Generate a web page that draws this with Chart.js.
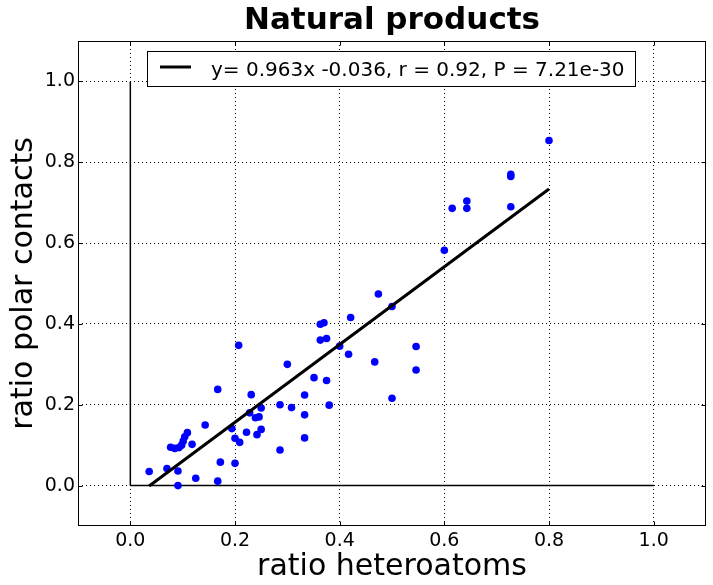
<!DOCTYPE html>
<html><head><meta charset="utf-8">
<script src="https://cdn.jsdelivr.net/npm/chart.js@4"></script>
<style>html,body{margin:0;padding:0;background:#fff}canvas{display:block}</style>
</head><body>
<canvas id="c" width="713" height="585"></canvas>
<script>
const titleText = 'Natural products';
const xLabel = 'ratio heteroatoms';
const yLabel = 'ratio polar contacts';
const legendText = 'y= 0.963x -0.036, r = 0.92, P = 7.21e-30';
const tickValues = [0.0, 0.2, 0.4, 0.6, 0.8, 1.0];
const axisMin = -0.1, axisMax = 1.1;

const xValues = [0.036, 0.070, 0.091, 0.091, 0.125, 0.167, 0.172, 0.200, 0.077, 0.085,
                 0.093, 0.098, 0.101, 0.104, 0.109, 0.118, 0.143, 0.167, 0.194, 0.200,
                 0.209, 0.207, 0.222, 0.228, 0.231, 0.239, 0.246, 0.250, 0.250, 0.242,
                 0.286, 0.286, 0.300, 0.308, 0.333, 0.333, 0.333, 0.351, 0.363, 0.370,
                 0.363, 0.375, 0.375, 0.380, 0.400, 0.417, 0.421, 0.467, 0.474, 0.500,
                 0.500, 0.546, 0.546, 0.600, 0.615, 0.643, 0.643, 0.727, 0.727, 0.727,
                 0.800];
const yValues = [0.035, 0.042, 0.036, 0.000, 0.018, 0.011, 0.058, 0.055, 0.095, 0.092,
                 0.094, 0.100, 0.110, 0.121, 0.131, 0.102, 0.150, 0.238, 0.141, 0.117,
                 0.107, 0.347, 0.132, 0.180, 0.225, 0.168, 0.170, 0.192, 0.139, 0.126,
                 0.200, 0.088, 0.300, 0.193, 0.224, 0.175, 0.118, 0.267, 0.399, 0.403,
                 0.360, 0.364, 0.260, 0.199, 0.345, 0.325, 0.416, 0.306, 0.474, 0.443,
                 0.216, 0.344, 0.286, 0.582, 0.686, 0.704, 0.686, 0.765, 0.770, 0.690,
                 0.854];
const fitX = [0.036, 0.800];
const fitY = [-0.001, 0.734];
const refVertX = [0, 0], refVertY = [0, 1];
const refHorzX = [0, 1], refHorzY = [0, 0];

const toPts = (xs, ys) => xs.map((x, i) => ({x: x, y: ys[i]}));
const FONT = "'DejaVu Sans', sans-serif";

const framePlugin = {
  id: 'frame',
  afterDraw(chart) {
    const {ctx, chartArea: a, scales} = chart;
    ctx.save();
    ctx.strokeStyle = '#000';
    ctx.lineWidth = 1;
    ctx.setLineDash([]);
    const L = Math.round(a.left) + 0.5, R = Math.round(a.right) - 0.5;
    const T = Math.round(a.top) + 0.5, B = Math.round(a.bottom) - 0.5;
    ctx.strokeRect(L, T, R - L, B - T);
    const tl = 4;
    ctx.beginPath();
    tickValues.forEach(v => {
      const px = Math.round(scales.x.getPixelForValue(v)) + 0.5;
      ctx.moveTo(px, B); ctx.lineTo(px, B - tl);
      ctx.moveTo(px, T); ctx.lineTo(px, T + tl);
      const py = Math.round(scales.y.getPixelForValue(v)) + 0.5;
      ctx.moveTo(L, py); ctx.lineTo(L + tl, py);
      ctx.moveTo(R, py); ctx.lineTo(R - tl, py);
    });
    ctx.stroke();
    // legend box
    const bx = 147.5, by = 51.5, bw = 488, bh = 35;
    ctx.fillStyle = '#fff';
    ctx.fillRect(bx, by, bw, bh);
    ctx.strokeRect(bx, by, bw, bh);
    ctx.beginPath();
    ctx.lineWidth = 3;
    ctx.moveTo(160, 67); ctx.lineTo(191, 67);
    ctx.stroke();
    ctx.fillStyle = '#000';
    ctx.font = "20px " + FONT;
    ctx.textBaseline = 'alphabetic';
    ctx.textAlign = 'left';
    ctx.fillText(legendText, 211, 76);
    ctx.restore();
  }
};

const tickOpts = {
  color: '#000',
  font: {family: FONT, size: 19},
  callback: v => Number(v).toFixed(1)
};

new Chart(document.getElementById('c'), {
  type: 'scatter',
  data: {
    datasets: [
      {data: toPts(fitX, fitY), showLine: true, borderColor: '#000', borderWidth: 3,
       pointRadius: 0, order: 0},
      {data: toPts(xValues, yValues), backgroundColor: '#0000ff', borderWidth: 0,
       pointRadius: 3.8, order: 1},
      {data: toPts(refVertX, refVertY), showLine: true, borderColor: '#000', borderWidth: 1.5,
       pointRadius: 0, order: 2},
      {data: toPts(refHorzX, refHorzY), showLine: true, borderColor: '#000', borderWidth: 1.5,
       pointRadius: 0, order: 3}
    ]
  },
  options: {
    responsive: false,
    animation: false,
    devicePixelRatio: 1,
    layout: {padding: {left: 0, right: 7, top: 0, bottom: 0}},
    plugins: {
      legend: {display: false},
      tooltip: {enabled: false},
      title: {display: true, text: titleText, color: '#000', fullSize: false,
              font: {family: FONT, size: 31, weight: 'bold', lineHeight: 1.2},
              padding: {top: 2, bottom: 1.8}}
    },
    scales: {
      x: {
        type: 'linear', min: axisMin, max: axisMax,
        afterBuildTicks: s => { s.ticks = tickValues.map(v => ({value: v})); },
        afterFit: s => { s.height = 59; },
        grid: {color: '#000', lineWidth: 1, drawTicks: false},
        border: {display: false, dash: [1, 3]},
        ticks: Object.assign({padding: 4, maxRotation: 0}, tickOpts),
        title: {display: true, text: xLabel, color: '#000',
                font: {family: FONT, size: 30, lineHeight: 1.2}, padding: {top: 0, bottom: 0}}
      },
      y: {
        type: 'linear', min: axisMin, max: axisMax,
        afterBuildTicks: s => { s.ticks = tickValues.map(v => ({value: v})); },
        afterFit: s => { s.width = 78; },
        grid: {color: '#000', lineWidth: 1, drawTicks: false},
        border: {display: false, dash: [1, 3]},
        ticks: Object.assign({padding: 3}, tickOpts),
        title: {display: true, text: yLabel, color: '#000',
                font: {family: FONT, size: 30, lineHeight: 1.2}, padding: {top: 6, bottom: 0}}
      }
    }
  },
  plugins: [framePlugin]
});
</script>
</body></html>
